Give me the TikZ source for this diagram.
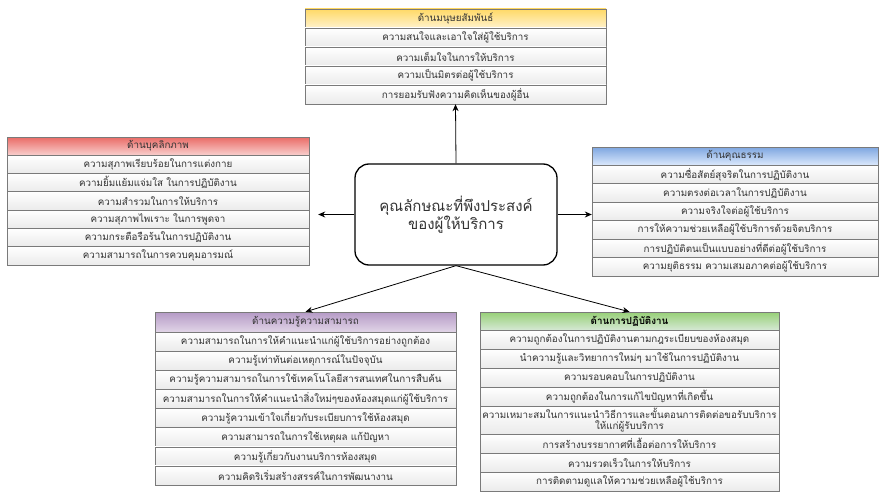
\documentclass[tikz,border=0pt]{standalone}
\usepackage{fontspec}
\setmainfont[Script=Thai]{Loma}
\usetikzlibrary{arrows.meta}
\definecolor{linegray}{HTML}{7A7A7A}
\definecolor{txtgray}{HTML}{333333}
\tikzset{
	row/.style={draw=linegray, inner sep=0pt, top color=white, bottom color=black!8,
		text=txtgray, font=\fontsize{9.8}{11.5}\selectfont, align=center},
	head/.style={row, text=txtgray},
	>={Stealth[length=7pt,width=6pt]}
}

\begin{document}
\begin{tikzpicture}[x=1pt,y=-1pt]
		\useasboundingbox (0,0) rectangle (882,492);
		% centre
		\node[draw, line width=1.3pt, rounded corners=14pt, minimum width=202, minimum height=101,
			text=txtgray, font=\fontsize{15}{18}\selectfont, align=center] (c) at (456,214.5)
			{คุณลักษณะที่พึงประสงค์\\ของผู้ให้บริการ};
		% top : yellow
		\node[head, top color={rgb,255:red,255;green,217;blue,102}, bottom color={rgb,255:red,255;green,242;blue,204},
			minimum width=301, minimum height=19] (y0) at (455.5,18.5) {ด้านมนุษยสัมพันธ์};
		\node[row, minimum width=301, minimum height=19] (y1) at (455.5,37.5) {ความสนใจและเอาใจใส่ผู้ใช้บริการ};
		\node[row, minimum width=301, minimum height=19] (y2) at (455.5,56.5) {ความเต็มใจในการให้บริการ};
		\node[row, minimum width=301, minimum height=19] (y3) at (455.5,75.5) {ความเป็นมิตรต่อผู้ใช้บริการ};
		\node[row, minimum width=301, minimum height=19] (y4) at (455.5,94.5) {การยอมรับฟังความคิดเห็นของผู้อื่น};
		% left : red
		\node[head, top color={rgb,255:red,234;green,107;blue,102}, bottom color={rgb,255:red,248;green,206;blue,204},
			minimum width=302, minimum height=18] (r0) at (158,146) {ด้านบุคลิกภาพ};
		\node[row, minimum width=302, minimum height=18.33] (r1) at (158,164.2) {ความสุภาพเรียบร้อยในการแต่งกาย};
		\node[row, minimum width=302, minimum height=18.33] (r2) at (158,182.5) {ความยิ้มแย้มแจ่มใส ในการปฏิบัติงาน};
		\node[row, minimum width=302, minimum height=18.33] (r3) at (158,200.8) {ความสำรวมในการให้บริการ};
		\node[row, minimum width=302, minimum height=18.33] (r4) at (158,219.2) {ความสุภาพไพเราะ ในการพูดจา};
		\node[row, minimum width=302, minimum height=18.33] (r5) at (158,237.5) {ความกระตือรือร้นในการปฏิบัติงาน};
		\node[row, minimum width=302, minimum height=18.33] (r6) at (158,255.8) {ความสามารถในการควบคุมอารมณ์};
		% right : blue
		\node[head, top color={rgb,255:red,126;green,166;blue,224}, bottom color={rgb,255:red,218;green,232;blue,252},
			minimum width=286, minimum height=18] (b0) at (735,156) {ด้านคุณธรรม};
		\node[row, minimum width=286, minimum height=18.5] (b1) at (735,174.25) {ความซื่อสัตย์สุจริตในการปฏิบัติงาน};
		\node[row, minimum width=286, minimum height=18.5] (b2) at (735,192.75) {ความตรงต่อเวลาในการปฏิบัติงาน};
		\node[row, minimum width=286, minimum height=18.5] (b3) at (735,211.25) {ความจริงใจต่อผู้ใช้บริการ};
		\node[row, minimum width=286, minimum height=18.5] (b4) at (735,229.75) {การให้ความช่วยเหลือผู้ใช้บริการด้วยจิตบริการ};
		\node[row, minimum width=286, minimum height=18.5] (b5) at (735,248.25) {การปฏิบัติตนเป็นแบบอย่างที่ดีต่อผู้ใช้บริการ};
		\node[row, minimum width=286, minimum height=18.5] (b6) at (735,266.75) {ความยุติธรรม ความเสมอภาคต่อผู้ใช้บริการ};
		% bottom left : purple
		\node[head, top color={rgb,255:red,181;green,154;blue,198}, bottom color={rgb,255:red,225;green,213;blue,231},
			minimum width=301, minimum height=20] (p0) at (305.5,322) {ด้านความรู้ความสามารถ};
		\node[row, minimum width=301, minimum height=19.1] (p1) at (305.5,341.6) {ความสามารถในการให้คำแนะนำแก่ผู้ใช้บริการอย่างถูกต้อง};
		\node[row, minimum width=301, minimum height=19.1] (p2) at (305.5,360.7) {ความรู้เท่าทันต่อเหตุการณ์ในปัจจุบัน};
		\node[row, minimum width=301, minimum height=19.1] (p3) at (305.5,379.8) {ความรู้ความสามารถในการใช้เทคโนโลยีสารสนเทศในการสืบค้น};
		\node[row, minimum width=301, minimum height=19.1] (p4) at (305.5,399) {ความสามารถในการให้คำแนะนำสิ่งใหม่ๆของห้องสมุดแก่ผู้ใช้บริการ};
		\node[row, minimum width=301, minimum height=19.1] (p5) at (305.5,418.1) {ความรู้ความเข้าใจเกี่ยวกับระเบียบการใช้ห้องสมุด};
		\node[row, minimum width=301, minimum height=19.1] (p6) at (305.5,437.2) {ความสามารถในการใช้เหตุผล แก้ปัญหา};
		\node[row, minimum width=301, minimum height=19.1] (p7) at (305.5,456.3) {ความรู้เกี่ยวกับงานบริการห้องสมุด};
		\node[row, minimum width=301, minimum height=19.1] (p8) at (305.5,475.4) {ความคิดริเริ่มสร้างสรรค์ในการพัฒนางาน};
		% bottom right : green
		\node[head, top color={rgb,255:red,151;green,208;blue,119}, bottom color={rgb,255:red,213;green,232;blue,212},
			minimum width=299, minimum height=18, text=black, font=\fontsize{9.8}{11.5}\selectfont\bfseries] (g0) at (629.5,321) {ด้านการปฏิบัติงาน};
		\node[row, minimum width=299, minimum height=19] (g1) at (629.5,339.5) {ความถูกต้องในการปฏิบัติงานตามกฎระเบียบของห้องสมุด};
		\node[row, minimum width=299, minimum height=19] (g2) at (629.5,358.5) {นำความรู้และวิทยาการใหม่ๆ มาใช้ในการปฏิบัติงาน};
		\node[row, minimum width=299, minimum height=19] (g3) at (629.5,377.5) {ความรอบคอบในการปฏิบัติงาน};
		\node[row, minimum width=299, minimum height=19] (g4) at (629.5,396.5) {ความถูกต้องในการแก้ไขปัญหาที่เกิดขึ้น};
		\node[row, minimum width=299, minimum height=28] (g5) at (629.5,420) {ความเหมาะสมในการแนะนำวิธีการและขั้นตอนการติดต่อขอรับบริการ\\ให้แก่ผู้รับบริการ};
		\node[row, minimum width=299, minimum height=19] (g6) at (629.5,443.5) {การสร้างบรรยากาศที่เอื้อต่อการให้บริการ};
		\node[row, minimum width=299, minimum height=19] (g7) at (629.5,462.5) {ความรวดเร็วในการให้บริการ};
		\node[row, minimum width=299, minimum height=19] (g8) at (629.5,481.5) {การติดตามดูแลให้ความช่วยเหลือผู้ใช้บริการ};
		% arrows
		\draw[->, thick] (c.north) -- (y4.south);
		\draw[->, thick, shorten >=9pt] (c.west) -- (c.west -| r4.east);
		\draw[->, thick] (c.east) -- (c.east -| b3.west);
		\draw[->, thick] (c.south) -- (p0.north);
		\draw[->, thick] (c.south) -- (g0.north);
	\end{tikzpicture}
\end{document}
